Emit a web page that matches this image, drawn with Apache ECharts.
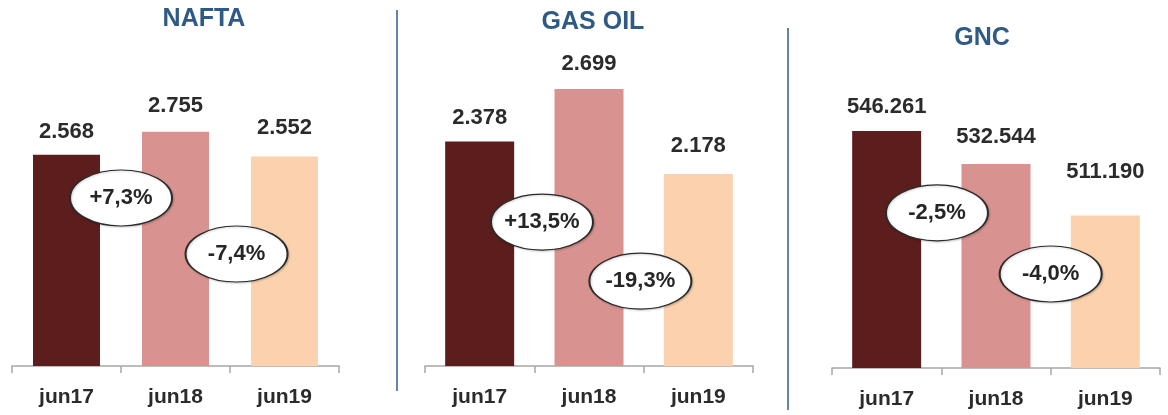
<!DOCTYPE html>
<html>
<head>
<meta charset="utf-8">
<title>Ventas NAFTA / GAS OIL / GNC</title>
<script src="https://cdn.jsdelivr.net/npm/echarts@6/dist/echarts.min.js"></script>
<style>
  html, body { margin: 0; padding: 0; background: #fff; }
  #chart { width: 1168px; height: 415px; }
</style>
</head>
<body>
<div id="chart"></div>
<script>
const periods = ['jun17', 'jun18', 'jun19']
const panelTitles = ['NAFTA', 'GAS OIL', 'GNC']

const naftaValues = [2568, 2755, 2552]
const gasOilValues = [2378, 2699, 2178]
const gncValues = [546261, 532544, 511190]

const naftaChange = ['+7,3%', '-7,4%']
const gasOilChange = ['+13,5%', '-19,3%']
const gncChange = ['-2,5%', '-4,0%']

// where the variation badges sit: x in category steps, y in axis units of each panel
const naftaBadgeX = [0.5, 1.56]
const naftaBadgeY = [2216, 1760]
const gasOilBadgeX = [0.57, 1.47]
const gasOilBadgeY = [1883, 1521]
const gncBadgeX = [0.46, 1.5]
const gncBadgeY = [512300, 487000]

const barColors = ['#5c1e1d', '#d8928f', '#fbd2ad']

const panels = [
  { values: naftaValues, change: naftaChange, badgeX: naftaBadgeX, badgeY: naftaBadgeY,
    grid: { left: 12, top: 40, width: 327, height: 326 }, min: 850, max: 3500,
    barWidth: 67, titleX: 204, titleTop: 7, labelDist: [12, 15, 18] },
  { values: gasOilValues, change: gasOilChange, badgeX: gasOilBadgeX, badgeY: gasOilBadgeY,
    grid: { left: 425, top: 40, width: 328, height: 326 }, min: 1000, max: 3000,
    barWidth: 69, titleX: 593, titleTop: 10, labelDist: [12, 14, 17] },
  { values: gncValues, change: gncChange, badgeX: gncBadgeX, badgeY: gncBadgeY,
    grid: { left: 832, top: 40, width: 328, height: 328 }, min: 448000, max: 584000,
    barWidth: 69, titleX: 982, titleTop: 26, labelDist: [13, 16, 33] }
]

const fmt = v => String(v).replace(/\B(?=(\d{3})+(?!\d))/g, '.')
const font = '"Liberation Sans", Arial, sans-serif'

const chart = echarts.init(document.getElementById('chart'))

const option = {
  backgroundColor: '#fff',
  animation: false,
  title: panels.map((p, i) => ({
    text: panelTitles[i],
    left: p.titleX,
    top: p.titleTop,
    textAlign: 'center',
    padding: 0,
    textStyle: { fontFamily: font, fontSize: 25, fontWeight: 'bold', color: '#2f5a86' }
  })),
  grid: panels.map(p => p.grid),
  xAxis: [
    ...panels.map((p, i) => ({
      type: 'category',
      gridIndex: i,
      data: periods,
      axisLine: { lineStyle: { color: '#a6a6a6', width: 1.5 } },
      axisTick: { show: true, length: 7, lineStyle: { color: '#a6a6a6', width: 1.5 } },
      axisLabel: { margin: 21, fontFamily: font, fontSize: 21, fontWeight: 'bold', color: '#2b2b2b' }
    })),
    ...panels.map((p, i) => ({
      type: 'value', gridIndex: i, min: -0.5, max: 2.5, show: false
    }))
  ],
  yAxis: panels.map((p, i) => ({
    type: 'value', gridIndex: i, min: p.min, max: p.max, show: false,
    splitLine: { show: false }
  })),
  series: [
    ...panels.map((p, i) => ({
      type: 'bar',
      xAxisIndex: i,
      yAxisIndex: i,
      barWidth: p.barWidth,
      data: p.values.map((v, j) => ({
        value: v,
        itemStyle: { color: barColors[j] },
        label: { distance: p.labelDist[j] }
      })),
      label: {
        show: true,
        position: 'top',
        formatter: d => fmt(d.value),
        fontFamily: font, fontSize: 22, fontWeight: 'bold', color: '#2b2b2b'
      }
    })),
    ...panels.map((p, i) => ({
      type: 'scatter',
      xAxisIndex: i + 3,
      yAxisIndex: i,
      z: 5,
      symbol: 'circle',
      symbolSize: [102, 56],
      itemStyle: {
        color: '#ffffff', opacity: 1, borderColor: '#2b2b2b', borderWidth: 1.5,
        shadowColor: 'rgba(0,0,0,0.18)', shadowBlur: 2, shadowOffsetX: 1, shadowOffsetY: 1
      },
      emphasis: { disabled: true },
      data: p.change.map((c, j) => ({ name: c, value: [p.badgeX[j], p.badgeY[j]] })),
      label: {
        show: true,
        position: 'inside',
        formatter: d => d.name,
        fontFamily: font, fontSize: 22, fontWeight: 'bold', color: '#262626'
      }
    }))
  ],
  graphic: [
    { type: 'line', shape: { x1: 397, y1: 10, x2: 397, y2: 391 }, style: { stroke: '#2f5d8e', lineWidth: 1.5 } },
    { type: 'line', shape: { x1: 788, y1: 28, x2: 788, y2: 410 }, style: { stroke: '#2f5d8e', lineWidth: 1.5 } }
  ]
}

chart.setOption(option)
window.addEventListener('resize', () => chart.resize())
</script>
</body>
</html>
